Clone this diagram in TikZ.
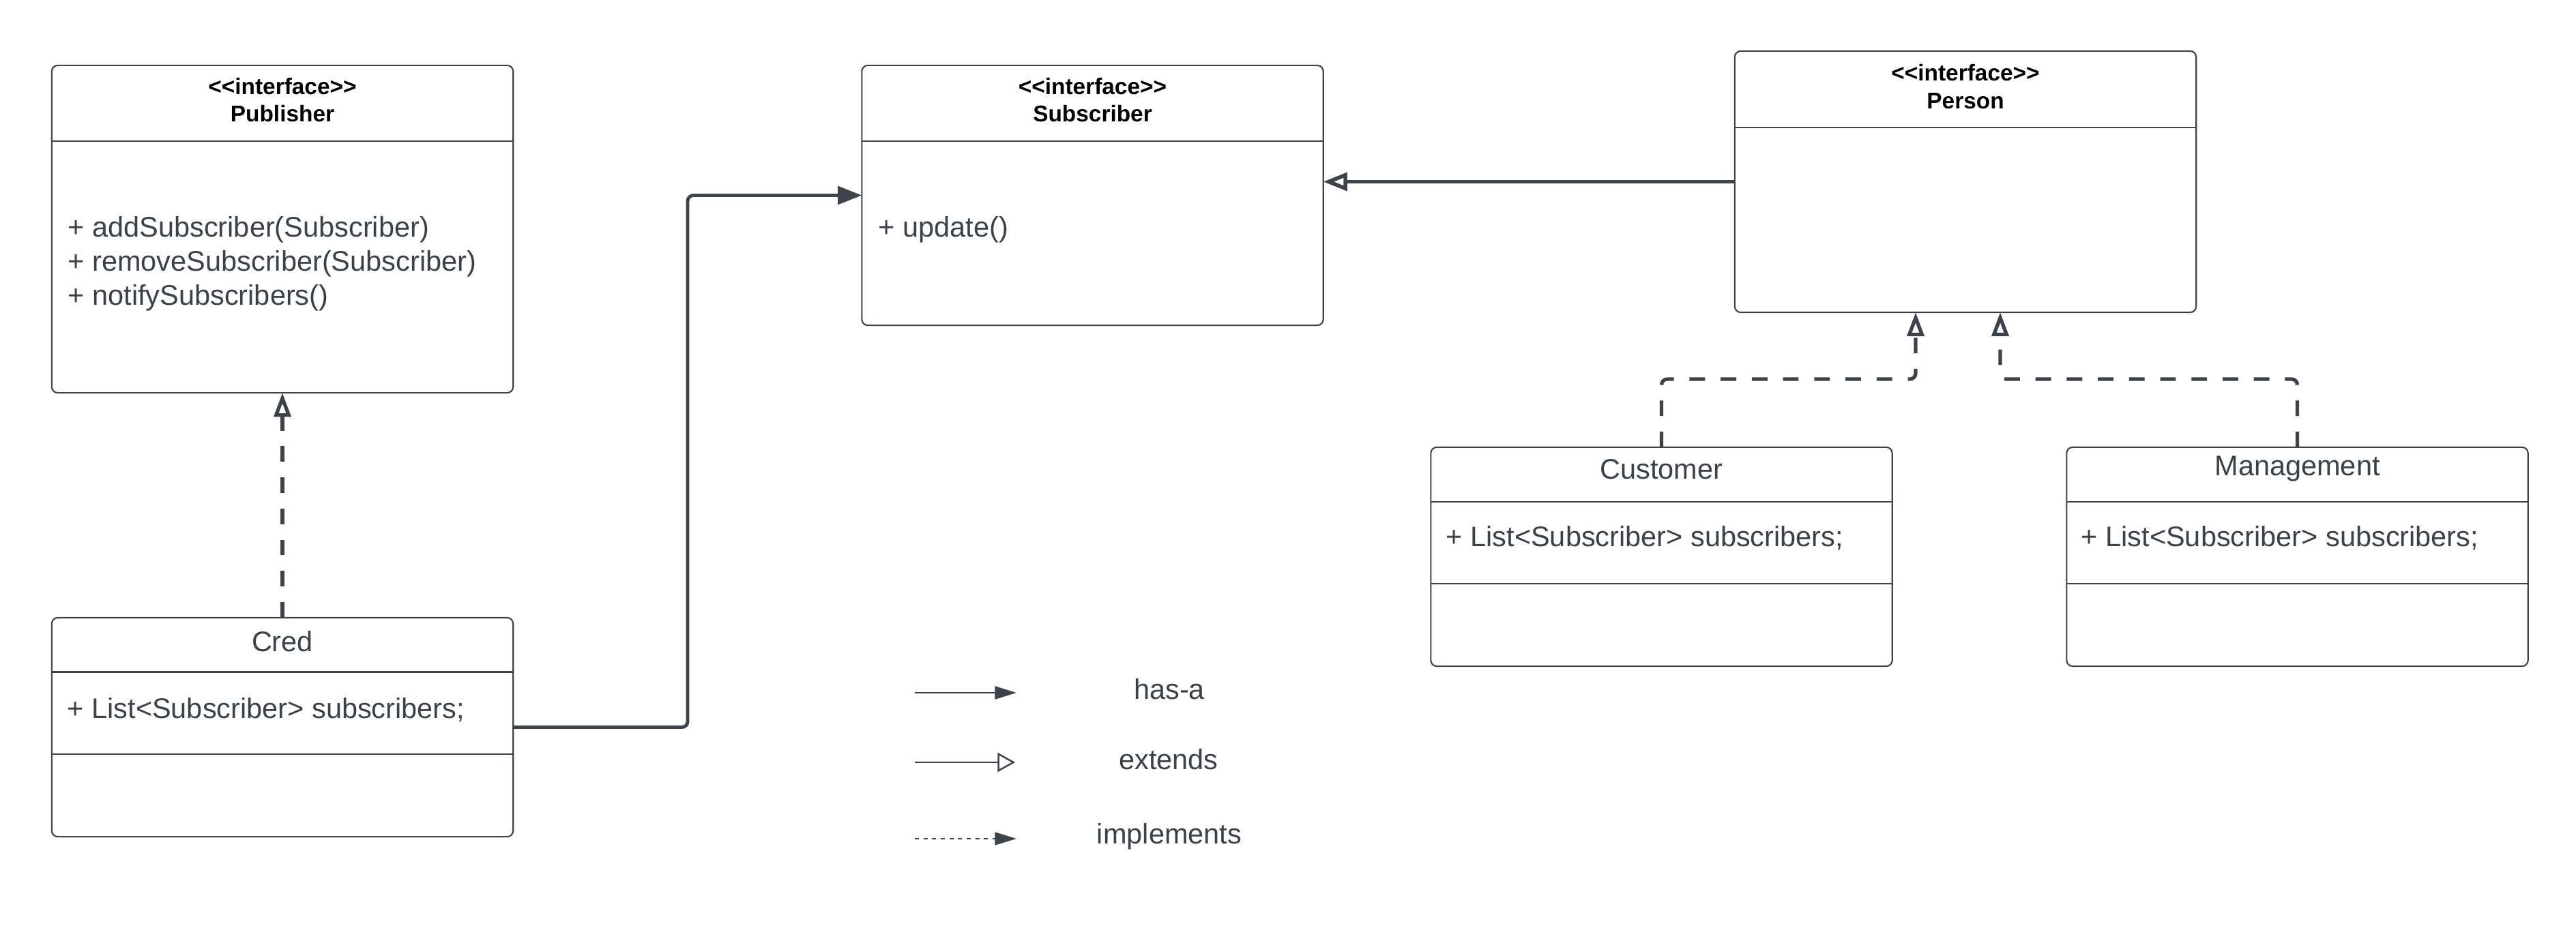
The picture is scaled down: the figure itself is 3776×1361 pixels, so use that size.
\documentclass[tikz,border=0pt]{standalone}
\usepackage{fontspec}
\setmainfont{Liberation Sans}
\usetikzlibrary{arrows.meta}
\definecolor{ink}{HTML}{3A414A}
\definecolor{edge}{HTML}{3D434C}
\begin{document}
\begin{tikzpicture}[x=0.01cm,y=-0.01cm,
  umlbox/.style={draw=edge, line width=0.6pt, rounded corners=2.5pt, fill=white,
    minimum width=6.76cm, inner sep=0pt, outer sep=0pt},
  divider/.style={draw=edge, line width=0.6pt},
  stereo/.style={font=\fontsize{9.5}{11}\selectfont\bfseries, text=black, inner sep=0pt},
  body/.style={font=\fontsize{11.8}{14.2}\selectfont, text=ink, inner sep=0pt, align=left},
  title/.style={font=\fontsize{11.8}{14.2}\selectfont, text=ink, inner sep=0pt},
  hasa/.style={draw=edge, line width=1.4pt, rounded corners=2.4pt,
    -{Triangle[length=10pt,width=7.5pt]}},
  extend/.style={draw=edge, line width=1.6pt,
    -{Triangle[open,length=10pt,width=7.5pt,fill=white]}},
  realize/.style={draw=edge, line width=1.5pt, rounded corners=2.4pt,
    dash pattern=on 6.5pt off 6.5pt,
    -{Triangle[open,length=10pt,width=7pt,fill=white]}},
  legendline/.style={draw=edge, line width=0.7pt},
]
\useasboundingbox (0,0) rectangle (3776,1361);

% class boxes
\node[umlbox, minimum height=4.80cm] (pub)  at (414,336)      {};
\node[umlbox, minimum height=3.81cm] (sub)  at (1601.5,286.5) {};
\node[umlbox, minimum height=3.83cm] (per)  at (2881,266.5)   {};
\node[umlbox, minimum height=3.21cm] (cred) at (414,1066.5)   {};
\node[umlbox, minimum height=3.21cm] (cust) at (2435.5,816.5) {};
\node[umlbox, minimum height=3.21cm] (mgmt) at (3367.5,816.5) {};

% compartment dividers
\draw[divider] (76,207) -- (752,207);
\draw[divider] (1263.5,207) -- (1939.5,207);
\draw[divider] (2543,187) -- (3219,187);
\draw[divider] (76,985.5) -- (752,985.5);
\draw[divider] (76,1106) -- (752,1106);
\draw[divider] (2097.5,736) -- (2773.5,736);
\draw[divider] (2097.5,856) -- (2773.5,856);
\draw[divider] (3029.5,736) -- (3705.5,736);
\draw[divider] (3029.5,856) -- (3705.5,856);

% Publisher
\node[stereo] (pubst) at (414,127) {<{}<interface>{}>};
\node[stereo] (pubnm) at (414,167) {Publisher};
\node[body, anchor=west] (pubops) at (99,387)
  {+ addSubscriber(Subscriber)\\+ removeSubscriber(Subscriber)\\+ notifySubscribers()};

% Subscriber
\node[stereo] (subst) at (1601.5,127) {<{}<interface>{}>};
\node[stereo] (subnm) at (1601.5,167) {Subscriber};
\node[body, anchor=west] (subops) at (1287,337) {+ update()};

% Person
\node[stereo] (perst) at (2881,107) {<{}<interface>{}>};
\node[stereo] (pernm) at (2881,148) {Person};

% Cred
\node[title] (crednm) at (414,941) {Cred};
\node[body, anchor=west] (credat) at (98,1041) {+ List<Subscriber> subscribers;};

% Customer
\node[title] (custnm) at (2435.5,688) {Customer};
\node[body, anchor=west] (custat) at (2119,789) {+ List<Subscriber> subscribers;};

% Management
\node[title] (mgmtnm) at (3367.5,688) {Management};
\node[body, anchor=west] (mgmtat) at (3050,789) {+ List<Subscriber> subscribers;};

% relations
\coordinate (credbend) at (1008,0);
\coordinate (reallevel) at (0,556);
\coordinate (perpinA) at (2808,458);
\coordinate (perpinB) at (2932,458);

\draw[hasa] (cred.east) -| (credbend |- sub.west) -- (sub.west);
\draw[extend] (per.west) -- (per.west -| sub.east);
\draw[realize] (cred.north) -- (pub.south);
\draw[realize] (cust.north) -- (cust.north |- reallevel) -| (perpinA);
\draw[realize] (mgmt.north) -- (mgmt.north |- reallevel) -| (perpinB);

% legend
\coordinate (lgAs) at (1341,1016);
\coordinate (lgAe) at (1490,1016);
\coordinate (lgBs) at (1341,1118);
\coordinate (lgBe) at (1488,1118);
\coordinate (lgCs) at (1341,1230);
\coordinate (lgCe) at (1490,1230);
\draw[legendline, -{Triangle[length=9pt,width=5.4pt]}] (lgAs) -- (lgAe);
\draw[legendline, -{Triangle[open,length=7.3pt,width=8pt,fill=white]}] (lgBs) -- (lgBe);
\draw[legendline, line width=0.5pt, dash pattern=on 1.7pt off 1.9pt,
  -{Triangle[length=9pt,width=5.4pt]}] (lgCs) -- (lgCe);
\node[title] (lgAt) at (1714,1011) {has-a};
\node[title] (lgBt) at (1713,1114) {extends};
\node[title] (lgCt) at (1714,1227) {implements};
\end{tikzpicture}
\end{document}
